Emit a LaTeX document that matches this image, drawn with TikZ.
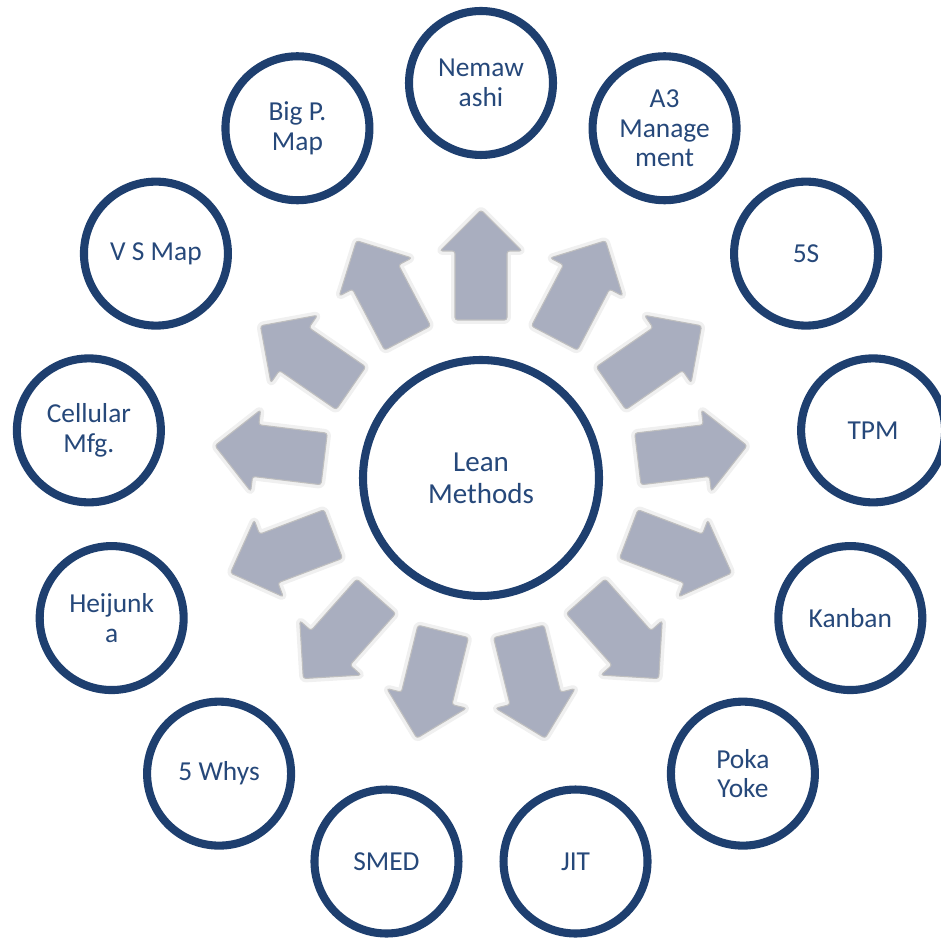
\documentclass[tikz,border=0pt]{standalone}
\usepackage{fontspec}
\setmainfont{Carlito}
\usetikzlibrary{shadows}
\definecolor{navy}{RGB}{30,63,111}
\definecolor{txtblue}{RGB}{38,72,122}
\definecolor{arrowfill}{RGB}{169,174,191}
\tikzset{
  pics/leanarrow/.style={code={
    \draw[arrowhalo] (-55,-26) -- (14,-26) -- (14,-41) -- (55,0) -- (14,41) -- (14,26) -- (-55,26) -- cycle;
    \draw[blockarrow] (-55,-26) -- (14,-26) -- (14,-41) -- (55,0) -- (14,41) -- (14,26) -- (-55,26) -- cycle;
  }}
}
\begin{document}
\begin{tikzpicture}[x=0.02cm,y=0.02cm,
  method/.style={circle, draw=navy, line width=4.6pt, fill=white, minimum size=2.88cm,
    inner sep=0pt, align=center, text=txtblue, font=\fontsize{15.6}{17}\selectfont,
    drop shadow={shadow xshift=1.2pt, shadow yshift=-1.8pt, opacity=0.22}},
  hub/.style={method, minimum size=4.72cm, font=\fontsize{16.5}{18}\selectfont},
  blockarrow/.style={fill=arrowfill, draw=gray!50, line width=0.6pt, rounded corners=1.5pt},
  arrowhalo/.style={draw=gray!12, line width=4.5pt, line join=round, rounded corners=1.5pt}
]
\useasboundingbox (0,0) rectangle (940,943);
\coordinate (C) at (481,465);
\foreach \k in {0,...,12}{
  \pgfmathsetmacro{\ang}{90-\k*360/13}
  \path (C) ++(\ang:213) pic[rotate=\ang] {leanarrow};
}
\foreach \k/\lab in {0/{Nemaw\\ashi}, 1/{A3\\Manage\\ment}, 2/{5S}, 3/{TPM}, 4/{Kanban},
  5/{Poka\\Yoke}, 6/{JIT}, 7/{SMED}, 8/{5 Whys}, 9/{Heijunk\\a}, 10/{Cellular\\Mfg.},
  11/{V S Map}, 12/{Big P.\\Map}}{
  \pgfmathsetmacro{\ang}{90-\k*360/13}
  \node[method] (n\k) at ([shift={(\ang:395)}]C) {\lab};
}
\node[hub] (lean) at (C) {Lean\\Methods};
\end{tikzpicture}
\end{document}
